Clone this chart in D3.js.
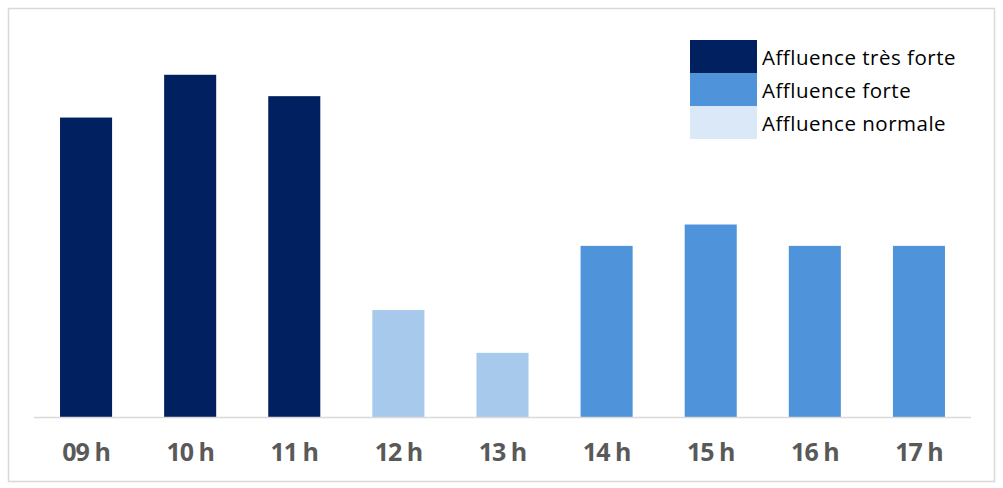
<!DOCTYPE html>
<html>
<head>
<meta charset="utf-8">
<script src="https://cdn.jsdelivr.net/npm/d3@7"></script>
<style>
  body { margin: 0; background: #fff; }
  text { font-family: 'Open Sans', 'Noto Sans', sans-serif; }
</style>
</head>
<body>
<div id="chart"></div>
<script>
const hours = ['09 h', '10 h', '11 h', '12 h', '13 h', '14 h', '15 h', '16 h', '17 h']
const values = [14, 16, 15, 5, 3, 8, 9, 8, 8]
const levels = ['tres', 'tres', 'tres', 'normale', 'normale', 'forte', 'forte', 'forte', 'forte']
const legendKeys = ['tres', 'forte', 'normale']
const legendLabels = ['Affluence très forte', 'Affluence forte', 'Affluence normale']

const barColors = { tres: '#002060', forte: '#4F94DA', normale: '#A6C9EC' }
const legendColors = { tres: '#002060', forte: '#4F94DA', normale: '#DAE8F8' }

const width = 1003
const height = 488
const margin = { top: 32, right: 32, bottom: 71, left: 34 }

const svg = d3.select('#chart')
  .append('svg')
  .attr('width', width)
  .attr('height', height)

svg.append('rect')
  .attr('x', 8.5)
  .attr('y', 8.5)
  .attr('width', 986)
  .attr('height', 473)
  .attr('fill', '#fff')
  .attr('stroke', '#d9d9d9')
  .attr('stroke-width', 1.5)

const xScale = d3.scaleBand()
  .domain(hours)
  .range([margin.left, width - margin.right])
  .paddingInner(0.5)
  .paddingOuter(0.25)
const yScale = d3.scaleLinear()
  .domain([0, 18])
  .range([height - margin.bottom, margin.top])

svg.append('g')
  .selectAll('rect')
  .data(hours)
  .join('rect')
  .attr('x', d => xScale(d))
  .attr('y', (d, i) => yScale(values[i]))
  .attr('width', xScale.bandwidth())
  .attr('height', (d, i) => yScale(0) - yScale(values[i]))
  .attr('fill', (d, i) => barColors[levels[i]])

// baseline
svg.append('line')
  .attr('x1', margin.left)
  .attr('x2', width - margin.right)
  .attr('y1', yScale(0) + 0.5)
  .attr('y2', yScale(0) + 0.5)
  .attr('stroke', '#d9d9d9')
  .attr('stroke-width', 1.5)

const axisX = d3.axisBottom().scale(xScale).tickSize(0).tickPadding(26)
const gx = svg.append('g')
  .attr('transform', `translate(0, ${yScale(0)})`)
  .call(axisX)
gx.select('.domain').remove()
gx.selectAll('text')
  .attr('fill', '#595959')
  .attr('font-size', 25)
  .attr('font-weight', 'bold')
  .style('font-family', "'Open Sans', sans-serif")
  .attr('letter-spacing', -1)

// legend
const legend = svg.append('g')
  .attr('transform', 'translate(690, 40)')
const item = legend.selectAll('g')
  .data(legendKeys)
  .join('g')
  .attr('transform', (d, i) => `translate(0, ${i * 33})`)
item.append('rect')
  .attr('width', 67)
  .attr('height', 33)
  .attr('fill', d => legendColors[d])
item.append('text')
  .attr('x', 72)
  .attr('y', 25)
  .attr('font-size', 20.5)
  .attr('letter-spacing', 0.5)
  .attr('fill', '#000')
  .text((d, i) => legendLabels[i])
</script>
</body>
</html>
